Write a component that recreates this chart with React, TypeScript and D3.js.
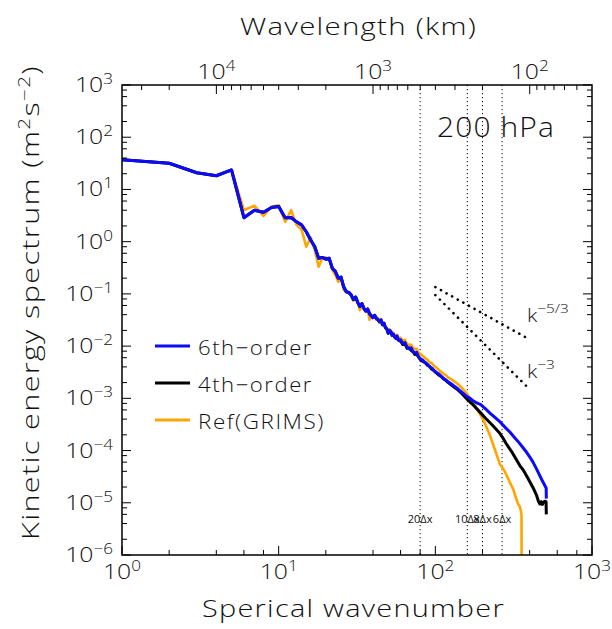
import React, { useLayoutEffect, useRef, useState } from 'react';
import * as d3 from 'd3';

const W = 612;
const H = 629;
const PLOT = { left: 122, right: 592, top: 85, bottom: 555 };
const FONT = "'Open Sans', 'DejaVu Sans', sans-serif";
const INK = '#111';
const WIDE = 1.18;
const EARTH_CIRC_KM = 40030;

// Low wavenumbers (shared abscissa for the three spectra)
const lowK = [1, 2, 3, 4, 5, 6, 7, 8, 9, 10, 11, 12, 13, 14, 15, 16, 17, 18, 19, 20, 21, 22, 23, 24, 25, 26, 27];
const modelLowE = [37.2, 31.7, 20.9, 18.3, 23.6, 2.88, 4.0, 3.65, 4.5, 4.7, 2.88, 2.9, 2.4, 2.1, 1.55, 1.08, 0.8, 0.48, 0.5, 0.46, 0.48, 0.31, 0.27, 0.2, 0.21, 0.137, 0.11];
const refLowE = [37.2, 31.7, 20.9, 18.3, 23.6, 4.0, 4.9, 3.1, 4.7, 5.0, 2.4, 4.0, 2.1, 1.7, 0.8, 1.2, 0.7, 0.33, 0.49, 0.5, 0.46, 0.29, 0.23, 0.17, 0.2, 0.12, 0.11];

// 6th-order run, n >= 28
const sixthK = [28, 29, 30, 31, 32, 33, 34, 35, 36, 37, 38, 39, 40, 41, 42, 43, 44, 45, 46, 47, 48, 49, 50, 51, 52, 53, 54, 55, 56, 57, 58, 59, 60,
  62, 64, 66, 68, 70, 72, 74, 76, 78, 80, 83, 86, 89, 92, 95, 98, 101, 105, 109, 113, 117, 121, 126, 131, 137, 143, 150, 158,
  166, 175, 185, 195, 210, 225, 240, 260, 280, 300, 320, 340, 360, 380, 400, 420, 440, 460, 480, 500, 510, 511];
const sixthE = [1.07e-1, 9.5e-2, 7.8e-2, 8.7e-2, 6.8e-2, 5.75e-2, 6.5e-2, 5.25e-2, 4.7e-2, 5.1e-2, 4.2e-2, 3.8e-2, 3.5e-2, 3.9e-2, 3.4e-2, 3.2e-2, 2.95e-2, 3.2e-2, 2.6e-2, 2.7e-2, 2.3e-2, 2.1e-2, 1.8e-2, 2.0e-2, 1.9e-2, 1.6e-2, 1.7e-2, 1.5e-2, 1.4e-2, 1.55e-2, 1.35e-2, 1.26e-2, 1.32e-2,
  1.12e-2, 1.17e-2, 9.5e-3, 8.9e-3, 9.3e-3, 7.9e-3, 7.4e-3, 7.6e-3, 6.3e-3, 5.75e-3, 5.4e-3, 4.8e-3, 4.5e-3, 4.0e-3, 3.8e-3, 3.4e-3, 3.16e-3, 2.95e-3, 2.63e-3, 2.4e-3, 2.24e-3, 2.04e-3, 1.9e-3, 1.74e-3, 1.58e-3, 1.41e-3, 1.26e-3, 1.1e-3,
  1.0e-3, 8.9e-4, 8.1e-4, 7.6e-4, 6.2e-4, 5.1e-4, 4.3e-4, 3.5e-4, 2.75e-4, 2.24e-4, 1.78e-4, 1.45e-4, 1.17e-4, 9.5e-5, 7.6e-5, 6.0e-5, 4.6e-5, 3.5e-5, 2.7e-5, 2.14e-5, 1.9e-5, 1.2e-5];

// 4th-order run, n >= 28
const fourthK = [28, 29, 30, 31, 32, 33, 34, 35, 36, 37, 38, 39, 40, 41, 42, 43, 44, 45, 46, 47, 48, 49, 50, 51, 52, 53, 54, 55, 56, 57, 58, 59, 60,
  62, 64, 66, 68, 70, 72, 74, 76, 78, 80, 83, 86, 89, 92, 95, 98, 101, 105, 109, 113, 117, 121, 126, 131, 137, 143, 150,
  160, 175, 192, 210, 234, 258, 270, 285, 310, 347, 363, 390, 422, 443, 455, 465, 475, 482, 490, 500, 509, 511];
const fourthE = [1.07e-1, 9.5e-2, 7.8e-2, 8.7e-2, 6.8e-2, 5.75e-2, 6.5e-2, 5.25e-2, 4.7e-2, 5.1e-2, 4.2e-2, 3.8e-2, 3.5e-2, 3.9e-2, 3.4e-2, 3.2e-2, 2.95e-2, 3.1e-2, 2.55e-2, 2.75e-2, 2.25e-2, 2.15e-2, 1.75e-2, 1.95e-2, 1.85e-2, 1.62e-2, 1.66e-2, 1.48e-2, 1.42e-2, 1.5e-2, 1.3e-2, 1.28e-2, 1.25e-2,
  1.07e-2, 1.1e-2, 9.1e-3, 9.3e-3, 8.3e-3, 7.8e-3, 6.9e-3, 7.1e-3, 6.2e-3, 5.6e-3, 5.1e-3, 4.9e-3, 4.3e-3, 4.1e-3, 3.6e-3, 3.4e-3, 3.1e-3, 2.8e-3, 2.63e-3, 2.34e-3, 2.19e-3, 2.0e-3, 1.82e-3, 1.66e-3, 1.51e-3, 1.35e-3, 1.17e-3,
  9.5e-4, 7.4e-4, 5.5e-4, 4.1e-4, 2.95e-4, 2.14e-4, 1.74e-4, 1.32e-4, 9.1e-5, 5.1e-5, 4.3e-5, 2.95e-5, 1.9e-5, 1.38e-5, 1.07e-5, 9.5e-6, 1.05e-5, 9.3e-6, 1.02e-5, 1.07e-5, 1.05e-5, 6.0e-6];

// Reference (GRIMS) run, n >= 28
const refK = [28, 29, 30, 31, 32, 33, 34, 35, 36, 37, 38, 39, 40, 41, 42, 43, 44, 45, 46, 47, 48, 49, 50, 51, 52, 53, 54, 55, 56, 57, 58, 59, 60,
  62, 64, 66, 68, 70, 72, 74, 76, 78, 80, 83, 86, 89, 92, 95, 98, 101, 105, 109, 113, 117, 121, 126, 131, 137, 143, 150, 158,
  166, 175, 192, 205, 222, 240, 258, 275, 290, 300, 314, 325, 335, 347, 352, 355, 356];
const refE = [1.02e-1, 1.0e-1, 7.4e-2, 8.9e-2, 6.9e-2, 4.9e-2, 6.6e-2, 5.4e-2, 4.5e-2, 5.25e-2, 3.2e-2, 4.0e-2, 3.6e-2, 3.8e-2, 3.2e-2, 3.5e-2, 2.8e-2, 3.3e-2, 2.7e-2, 2.8e-2, 2.4e-2, 2.2e-2, 1.95e-2, 2.1e-2, 2.0e-2, 1.74e-2, 1.8e-2, 1.6e-2, 1.55e-2, 1.66e-2, 1.48e-2, 1.38e-2, 1.45e-2,
  1.26e-2, 1.32e-2, 1.1e-2, 1.05e-2, 1.07e-2, 9.3e-3, 8.7e-3, 8.9e-3, 7.6e-3, 7.1e-3, 6.5e-3, 5.9e-3, 5.5e-3, 4.9e-3, 4.7e-3, 4.2e-3, 3.9e-3, 3.55e-3, 3.2e-3, 2.95e-3, 2.75e-3, 2.5e-3, 2.34e-3, 2.14e-3, 1.95e-3, 1.74e-3, 1.51e-3, 1.26e-3,
  1.02e-3, 8.3e-4, 5.1e-4, 3.55e-4, 2.04e-4, 1.05e-4, 5.5e-5, 4.2e-5, 3.0e-5, 2.4e-5, 1.82e-5, 1.32e-5, 1.0e-5, 8.3e-6, 6.9e-6, 5.6e-6, 1e-9];

// Grid-scale markers
const gridK = [80, 160, 200, 266.7];
const gridLabels = ['20Δx', '10Δx', '8Δx', '6Δx'];

// Reference power-law slopes
const slopeExps = [-5 / 3, -3];
const slopeLabels = ['−5/3', '−3'];
const slopeStartK = [100, 100];
const slopeEndK = [375, 390];
const slopeStartE = [0.135, 0.095];

// Axis ticks
const xMajor = [1, 10, 100, 1000];
const xExps = ['0', '1', '2', '3'];
const yExps = ['3', '2', '1', '0', '−1', '−2', '−3', '−4', '−5', '−6'];
const yMajor = [1e3, 1e2, 1e1, 1, 1e-1, 1e-2, 1e-3, 1e-4, 1e-5, 1e-6];
const lambdaMajor = [1e4, 1e3, 1e2];
const lambdaExps = ['4', '3', '2'];
const minorMult = [2, 4, 6, 8];
const lambdaMinorMult = [2, 3, 4, 5, 6, 7, 8, 9];

// Legend
const legendNames = ['6th−order', '4th−order', 'Ref(GRIMS)'];
const legendColors = ['#0a0aff', '#000000', '#ffa500'];
const legendWidths = [115, 115, 127];

const x = d3.scaleLog().domain([1, 1000]).range([PLOT.left, PLOT.right]);
const y = d3.scaleLog().domain([1e-6, 1e3]).range([PLOT.bottom, PLOT.top]);

const line = d3.line<[number, number]>().x((d) => x(d[0])).y((d) => y(d[1]));

function series(k1: number[], e1: number[], k2: number[], e2: number[]): [number, number][] {
  const a = k1.map((k, i) => [k, e1[i]] as [number, number]);
  const b = k2.map((k, i) => [k, e2[i]] as [number, number]);
  return a.concat(b);
}

// Horizontally widened text, anchored at (x, y)
function WideText({ x, y, sx = WIDE, rotate = 0, children, ...rest }: any) {
  return (
    <g transform={`translate(${x},${y}) rotate(${rotate}) scale(${sx},1)`}>
      <text x={0} y={0} fill={INK} fontFamily={FONT} fontWeight={300} {...rest}>{children}</text>
    </g>
  );
}

// Text starting at (x, y), stretched along its baseline to span exactly `width` pixels
function FitText({ x, y, width, rotate = 0, children, ...rest }: any) {
  const ref = useRef<SVGTextElement>(null);
  const [fit, setFit] = useState({ sx: WIDE, dx: 0 });
  useLayoutEffect(() => {
    const measure = () => {
      if (!ref.current) return;
      const b = ref.current.getBBox();
      if (b.width > 0) setFit({ sx: width / b.width, dx: -b.x });
    };
    measure();
    if ((document as any).fonts && (document as any).fonts.ready) (document as any).fonts.ready.then(measure);
  }, [width]);
  return (
    <g transform={`translate(${x},${y}) rotate(${rotate}) scale(${fit.sx},1) translate(${fit.dx},0)`}>
      <text ref={ref} x={0} y={0} fill={INK} fontFamily={FONT} fontWeight={300} {...rest}>{children}</text>
    </g>
  );
}

function Pow({ x, y, exp, anchor }: { x: number; y: number; exp: string; anchor: string }) {
  return (
    <WideText x={x} y={y} textAnchor={anchor} fontSize={21}>
      <tspan>10</tspan>
      <tspan dy={-8} fontSize={14.5}>{exp}</tspan>
    </WideText>
  );
}

export default function App() {
  const sixth = series(lowK, modelLowE, sixthK, sixthE);
  const fourth = series(lowK, modelLowE, fourthK, fourthE);
  const ref = series(lowK, refLowE, refK, refE);

  const xMinors: number[] = [];
  [1, 10, 100].forEach((d) => minorMult.forEach((m) => xMinors.push(d * m)));
  const yMinors: number[] = [];
  [1e-6, 1e-5, 1e-4, 1e-3, 1e-2, 1e-1, 1, 10, 100].forEach((d) => minorMult.forEach((m) => yMinors.push(d * m)));
  const lambdaMinors: number[] = [];
  [10, 100, 1000, 10000].forEach((d) =>
    lambdaMinorMult.forEach((m) => {
      const v = d * m;
      const n = EARTH_CIRC_KM / v;
      if (n > 1.001 && n < 999) lambdaMinors.push(v);
    })
  );
  const lx = (lam: number) => x(EARTH_CIRC_KM / lam);

  const major = 9;
  const minor = 5;

  return (
    <svg width={W} height={H} style={{ position: 'absolute', left: 0, top: 0, background: '#fff' }}>
      <defs>
        <clipPath id="plot-area">
          <rect x={PLOT.left} y={PLOT.top} width={PLOT.right - PLOT.left} height={PLOT.bottom - PLOT.top} />
        </clipPath>
      </defs>

      {/* grid-scale markers */}
      {gridK.map((k, i) => (
        <g key={'g' + i}>
          <line x1={x(k)} x2={x(k)} y1={PLOT.top} y2={PLOT.bottom} stroke="#000" strokeWidth={1} strokeDasharray="1.2,2.8" />
          <text x={x(k)} y={523} textAnchor="middle" fontSize={11} fill={INK} fontFamily={FONT}>{gridLabels[i]}</text>
        </g>
      ))}

      {/* power-law reference slopes */}
      {slopeExps.map((p, i) => {
        const k0 = slopeStartK[i];
        const k1 = slopeEndK[i];
        const e0 = slopeStartE[i];
        const e1 = e0 * Math.pow(k1 / k0, p);
        return (
          <line key={'s' + i} x1={x(k0)} y1={y(e0)} x2={x(k1)} y2={y(e1)} stroke="#000" strokeWidth={2.6}
            strokeLinecap="round" strokeDasharray="0.1,6.3" />
        );
      })}
      <WideText x={527} y={322} fontSize={18}>
        k<tspan dy={-9} fontSize={13}>{slopeLabels[0]}</tspan>
      </WideText>
      <WideText x={527} y={378} fontSize={18}>
        k<tspan dy={-9} fontSize={13}>{slopeLabels[1]}</tspan>
      </WideText>

      {/* spectra */}
      <g clipPath="url(#plot-area)" fill="none" strokeLinejoin="round">
        <path d={line(ref) || ''} stroke={legendColors[2]} strokeWidth={2.6} />
        <path d={line(fourth) || ''} stroke={legendColors[1]} strokeWidth={3} />
        <path d={line(sixth) || ''} stroke={legendColors[0]} strokeWidth={3} />
      </g>

      {/* frame */}
      <rect x={PLOT.left} y={PLOT.top} width={PLOT.right - PLOT.left} height={PLOT.bottom - PLOT.top}
        fill="none" stroke="#000" strokeWidth={1.5} />

      {/* bottom axis ticks */}
      {xMajor.map((v) => (
        <line key={'xb' + v} x1={x(v)} x2={x(v)} y1={PLOT.bottom} y2={PLOT.bottom - major} stroke="#000" />
      ))}
      {xMinors.map((v) => (
        <line key={'xbm' + v} x1={x(v)} x2={x(v)} y1={PLOT.bottom} y2={PLOT.bottom - minor} stroke="#000" />
      ))}
      {xMajor.map((v, i) => (
        <Pow key={'xl' + v} x={x(v)} y={579} exp={xExps[i]} anchor="middle" />
      ))}

      {/* top axis (wavelength) */}
      {lambdaMajor.map((v) => (
        <line key={'lt' + v} x1={lx(v)} x2={lx(v)} y1={PLOT.top} y2={PLOT.top + major} stroke="#000" />
      ))}
      {lambdaMinors.map((v) => (
        <line key={'ltm' + v} x1={lx(v)} x2={lx(v)} y1={PLOT.top} y2={PLOT.top + minor} stroke="#000" />
      ))}
      {lambdaMajor.map((v, i) => (
        <Pow key={'ll' + v} x={lx(v)} y={79} exp={lambdaExps[i]} anchor="middle" />
      ))}

      {/* left and right axes */}
      {yMajor.map((v) => (
        <g key={'y' + v}>
          <line x1={PLOT.left} x2={PLOT.left + major} y1={y(v)} y2={y(v)} stroke="#000" />
          <line x1={PLOT.right} x2={PLOT.right - major} y1={y(v)} y2={y(v)} stroke="#000" />
        </g>
      ))}
      {yMinors.map((v) => (
        <g key={'ym' + v}>
          <line x1={PLOT.left} x2={PLOT.left + minor} y1={y(v)} y2={y(v)} stroke="#000" />
          <line x1={PLOT.right} x2={PLOT.right - minor} y1={y(v)} y2={y(v)} stroke="#000" />
        </g>
      ))}
      {yMajor.map((v, i) => (
        <Pow key={'yl' + v} x={113} y={y(v) + 7} exp={yExps[i]} anchor="end" />
      ))}

      {/* titles */}
      <FitText x={240} y={35} width={237} fontSize={23} letterSpacing={1}>Wavelength (km)</FitText>
      <FitText x={202} y={617} width={303} fontSize={23} letterSpacing={1}>Sperical wavenumber</FitText>
      <FitText x={39} y={540} width={475} rotate={-90} fontSize={23} letterSpacing={1}>
        <tspan>Kinetic energy spectrum (m</tspan>
        <tspan dy={-9} fontSize={15.5}>2</tspan>
        <tspan dy={9}>s</tspan>
        <tspan dy={-9} fontSize={15.5}>−2</tspan>
        <tspan dy={9}>)</tspan>
      </FitText>
      <FitText x={437} y={137} width={118} fontSize={27} letterSpacing={1}>200 hPa</FitText>

      {/* legend */}
      {legendNames.map((name, i) => (
        <g key={'lg' + i}>
          <line x1={155} x2={190} y1={346 + i * 37} y2={346 + i * 37} stroke={legendColors[i]} strokeWidth={3} />
          <FitText x={198} y={355 + i * 37} width={legendWidths[i]} fontSize={20} letterSpacing={1.4}>{name}</FitText>
        </g>
      ))}
    </svg>
  );
}
